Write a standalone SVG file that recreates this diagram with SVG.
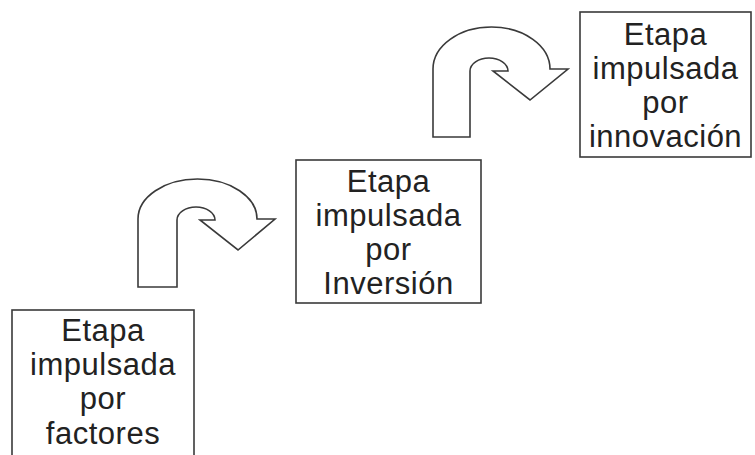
<svg xmlns="http://www.w3.org/2000/svg" width="755" height="455" viewBox="0 0 755 455">
<style>
.box{fill:#fff;stroke:#3a3a3a;stroke-width:1.6}
.arrow{fill:#fff;stroke:#3a3a3a;stroke-width:1.6;stroke-linejoin:miter}
text{font-family:"Liberation Sans",Arial,sans-serif;font-size:31px;letter-spacing:0.5px;fill:#222;text-anchor:middle}
</style>
<rect width="755" height="455" fill="#fff"/>
<g id="connectors">
<path class="arrow" d="M138,287 L138,219 A59.5,40 0 0 1 257,219 L275,219 L238,250 L200,220 L215,220 A19,13 0 0 0 177,220 L177,287 Z"/>
<path class="arrow" d="M433,137 L433,69 A58.5,42 0 0 1 550,69 L568,69 L530,100 L493,71 L508,71 A19,13 0 0 0 470,71 L470,137 Z"/>
</g>
<g id="node-factores">
<rect class="box" x="12" y="310" width="182" height="160"/>
<text x="103" y="341">Etapa</text>
<text x="103" y="375">impulsada</text>
<text x="103" y="409">por</text>
<text x="103" y="444">factores</text>
</g>
<g id="node-inversion">
<rect class="box" x="296" y="160" width="185" height="143"/>
<text x="388.5" y="192">Etapa</text>
<text x="388.5" y="226">impulsada</text>
<text x="388.5" y="260">por</text>
<text x="388.5" y="294">Inversión</text>
</g>
<g id="node-innovacion">
<rect class="box" x="580" y="12" width="171" height="145"/>
<text x="665.5" y="45">Etapa</text>
<text x="665.5" y="79">impulsada</text>
<text x="665.5" y="113">por</text>
<text x="665.5" y="147">innovación</text>
</g>
</svg>
